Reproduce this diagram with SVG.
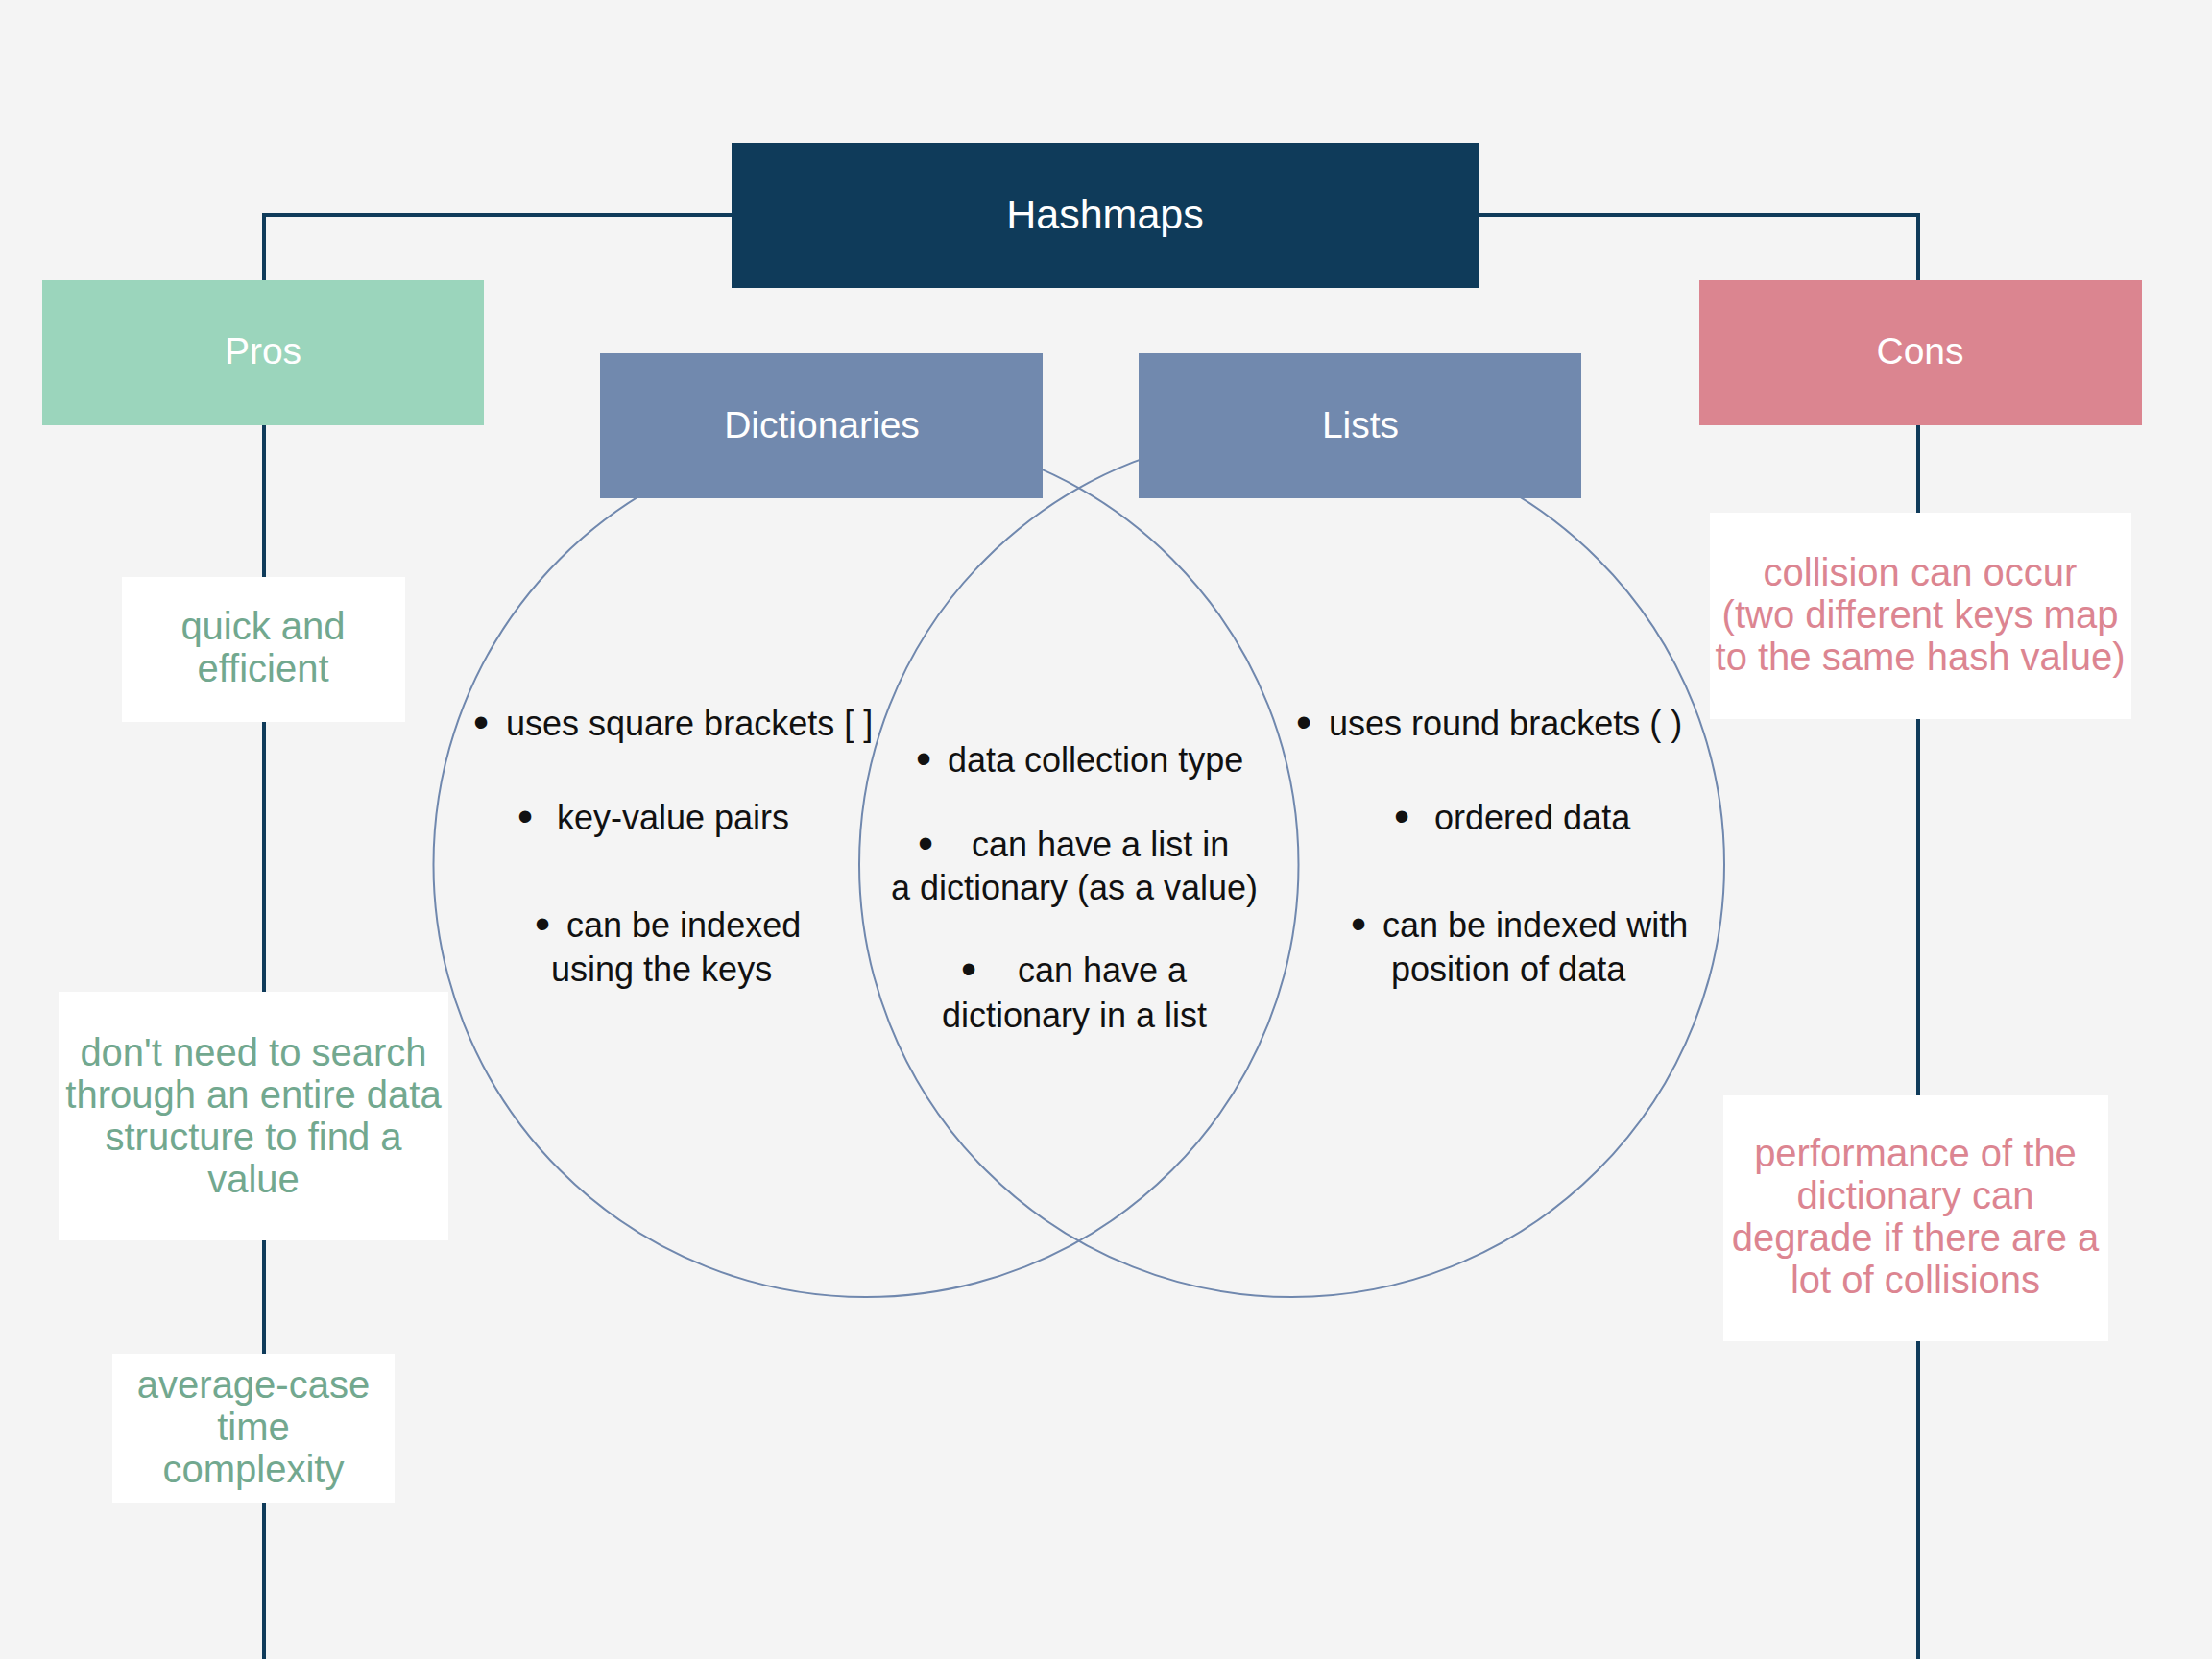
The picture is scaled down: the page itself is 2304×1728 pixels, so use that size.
<svg xmlns="http://www.w3.org/2000/svg" width="2304" height="1728" viewBox="0 0 2304 1728">
<style>
.hdr{font-family:"Liberation Sans",Arial,sans-serif;fill:#ffffff;text-anchor:middle}
.pro{font-family:"Liberation Sans",Arial,sans-serif;font-size:40px;fill:#72a88f;text-anchor:middle}
.con{font-family:"Liberation Sans",Arial,sans-serif;font-size:40px;fill:#dc8591;text-anchor:middle}
.bl{font-family:"Liberation Sans",Arial,sans-serif;font-size:36px;fill:#111111}
.bd{font-family:"Liberation Sans",Arial,sans-serif;font-size:36px;fill:#111111;text-anchor:middle}
.dot{font-family:"Liberation Sans",Arial,sans-serif;font-size:46px;fill:#111111;text-anchor:middle}
.item{fill:#ffffff}
.venn{fill:none;stroke:#7088ae;stroke-width:2}
.conn{fill:none;stroke:#0f3b5a;stroke-width:4}
</style>
<rect x="0" y="0" width="2304" height="1728" fill="#f4f4f4"/>
<g id="connectors">
<path class="conn" d="M275 1728 V224 H762"/>
<path class="conn" d="M1540 224 H1998 V1728"/>
</g>
<g id="venn">
<circle class="venn" cx="902" cy="900.5" r="450.5"/>
<circle class="venn" cx="1345.5" cy="900.5" r="450.5"/>
</g>
<g id="hashmaps">
<rect x="762" y="149" width="778" height="151" fill="#0f3b5a"/>
<text class="hdr" x="1151" y="238" font-size="43">Hashmaps</text>
</g>
<g id="pros">
<rect x="44" y="292" width="460" height="151" fill="#9bd5bc"/>
<text class="hdr" x="274" y="379" font-size="39">Pros</text>
</g>
<g id="cons">
<rect x="1770" y="292" width="461" height="151" fill="#db8590"/>
<text class="hdr" x="2000" y="379" font-size="39">Cons</text>
</g>
<g id="dictionaries">
<rect x="625" y="368" width="461" height="151" fill="#7189ae"/>
<text class="hdr" x="856" y="456" font-size="39">Dictionaries</text>
</g>
<g id="lists">
<rect x="1186" y="368" width="461" height="151" fill="#7189ae"/>
<text class="hdr" x="1417" y="456" font-size="39">Lists</text>
</g>
<g id="pro1">
<rect class="item" x="127" y="601" width="295" height="151"/>
<text class="pro" x="274" y="666">quick and</text>
<text class="pro" x="274" y="710">efficient</text>
</g>
<g id="pro2">
<rect class="item" x="61" y="1033" width="406" height="259"/>
<text class="pro" x="264" y="1110">don't need to search</text>
<text class="pro" x="264" y="1154">through an entire data</text>
<text class="pro" x="264" y="1198">structure to find a</text>
<text class="pro" x="264" y="1242">value</text>
</g>
<g id="pro3">
<rect class="item" x="117" y="1410" width="294" height="155"/>
<text class="pro" x="264" y="1456">average-case</text>
<text class="pro" x="264" y="1500">time</text>
<text class="pro" x="264" y="1544">complexity</text>
</g>
<g id="con1">
<rect class="item" x="1781" y="534" width="439" height="215"/>
<text class="con" x="2000" y="610">collision can occur</text>
<text class="con" x="2000" y="654">(two different keys map</text>
<text class="con" x="2000" y="698">to the same hash value)</text>
</g>
<g id="con2">
<rect class="item" x="1795" y="1141" width="401" height="256"/>
<text class="con" x="1995" y="1215">performance of the</text>
<text class="con" x="1995" y="1259">dictionary can</text>
<text class="con" x="1995" y="1303">degrade if there are a</text>
<text class="con" x="1995" y="1347">lot of collisions</text>
</g>
<g id="dict-items">
<text class="dot" x="501" y="768">•</text>
<text class="bl" x="527" y="766">uses square brackets [ ]</text>
<text class="dot" x="547" y="866">•</text>
<text class="bl" x="580" y="864">key-value pairs</text>
<text class="dot" x="565" y="978">•</text>
<text class="bl" x="590" y="976">can be indexed</text>
<text class="bl" x="574" y="1022">using the keys</text>
</g>
<g id="shared-items">
<text class="dot" x="962" y="806">•</text>
<text class="bl" x="987" y="804">data collection type</text>
<text class="dot" x="964" y="894">•</text>
<text class="bl" x="1012" y="892">can have a list in</text>
<text class="bd" x="1119" y="937">a dictionary (as a value)</text>
<text class="dot" x="1009" y="1025">•</text>
<text class="bl" x="1060" y="1023">can have a</text>
<text class="bd" x="1119" y="1070">dictionary in a list</text>
</g>
<g id="list-items">
<text class="dot" x="1358" y="768">•</text>
<text class="bl" x="1384" y="766">uses round brackets ( )</text>
<text class="dot" x="1460" y="866">•</text>
<text class="bl" x="1494" y="864">ordered data</text>
<text class="dot" x="1415" y="978">•</text>
<text class="bl" x="1440" y="976">can be indexed with</text>
<text class="bl" x="1449" y="1022">position of data</text>
</g>
</svg>
